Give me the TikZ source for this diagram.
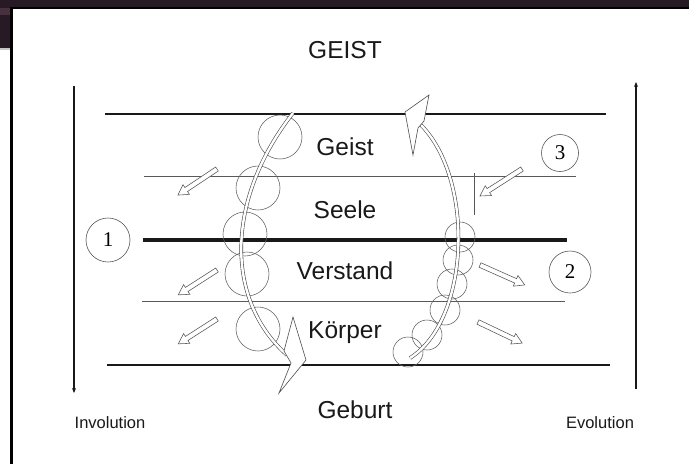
\documentclass[tikz,border=0pt]{standalone}
\usepackage{fontspec}
\setmainfont{Liberation Sans}
\newfontfamily\numfont{Liberation Serif}
\usetikzlibrary{arrows.meta}
\definecolor{framedark}{RGB}{40,26,36}
\definecolor{framelight}{RGB}{72,48,62}
\definecolor{ink}{RGB}{25,25,25}
\tikzset{
  bubble/.style={draw=gray!75!black, line width=0.55pt},
  band/.style={line width=2.6pt, color=ink},
  thinband/.style={line width=0.9pt, color=gray!70!black},
  loopline/.style={draw=gray!60!black, line width=0.6pt, double=white, double distance=2.4pt},
  loophead/.style={draw=gray!60!black, line width=0.6pt, fill=white, line join=miter},
  numbered/.style={circle, draw=gray!70!black, line width=0.6pt, inner sep=0pt, font=\numfont\fontsize{21}{21}\selectfont},
  layer/.style={text=ink, font=\fontsize{24.5}{24.5}\selectfont},
  side/.style={text=ink, font=\fontsize{16.5}{16.5}\selectfont}
}
\newcommand\hollowarrow[3]{%
  \begin{scope}[shift={(#1)}, rotate=#2]
    \draw[gray!65!black, fill=white, line width=0.55pt] (0,-2.4) -- (#3-10,-2.4) -- (#3-10,-5.8) -- (#3,0) -- (#3-10,5.8) -- (#3-10,2.4) -- (0,2.4) -- cycle;
  \end{scope}}

\begin{document}
\begin{tikzpicture}[x=1pt,y=-1pt]
  \useasboundingbox (0,0) rectangle (689,464);
  \fill[white] (0,0) rectangle (689,464);
  \fill[framedark] (0,0) rectangle (689,8);
  \fill[framedark] (0,0) rectangle (10,48);
  \fill[framelight] (0,8) rectangle (10,15);
  \fill[gray!45] (0,48) rectangle (10,50);
  \fill[black] (10,7) rectangle (689,8.5);
  \fill[black] (10,7) rectangle (12.5,464);

  \node[text=ink, font=\fontsize{24.5}{24.5}\selectfont] (GEIST) at (345,50) {GEIST};
  \node[text=ink, font=\fontsize{24.5}{24.5}\selectfont] (Geburt) at (355,410) {Geburt};
  \node[side] (Inv) at (110,423) {Involution};
  \node[side] (Evo) at (600,423) {Evolution};

  \coordinate (invtop) at (74,86);
  \coordinate (invbot) at (74,393);
  \coordinate (evobot) at (636,389);
  \coordinate (evotop) at (636,82);
  \draw[color=ink][line width=1.3pt][-{Stealth[length=5pt,width=4pt]}] (invtop) to (invbot);
  \draw[color=ink][line width=1.3pt][-{Stealth[length=5pt,width=4pt]}] (evobot) to (evotop);

  \draw[band] (105,114) to (606,114);
  \draw[thinband] (144,176) to (576,176);
  \draw[band][line width=3.6pt] (143,240) to (567,240);
  \draw[thinband] (142,301) to (565,301);
  \draw[band] (107,365) to (610,365);

  \node[layer] (Geist) at (345,147) {Geist};
  \node[layer] (Seele) at (345,210) {Seele};
  \node[layer] (Verstand) at (345,271) {Verstand};
  \node[layer] (Koerper) at (345,333) {Körper};

  \node[numbered, minimum size=44pt] (One) at (108,240) {1};
  \node[numbered, minimum size=42pt] (Two) at (570,272) {2};
  \node[numbered, minimum size=37pt] (Three) at (560,153) {3};

  \hollowarrow{217,169}{213.7}{47}
  \hollowarrow{217,270}{212.7}{46}
  \hollowarrow{217,319}{212.7}{46}
  \hollowarrow{522,169}{212.7}{50}
  \hollowarrow{480,265}{-24}{49}
  \hollowarrow{478,322}{-25.5}{49}
  \draw[gray!70!black][line width=0.6pt] (474,173) to (474,215);

  \foreach \cx/\cy in {280/137, 258/188, 245/234, 247/274, 258/329}
    \draw[bubble] (\cx,\cy) circle[radius=22];
  \foreach \cx/\cy in {460/237, 458/260, 452/284, 445/310, 427/335, 408/352}
    \draw[bubble] (\cx,\cy) circle[radius=15];

  \draw[loopline] (293,113) .. controls (225,200) and (225,300) .. (287,355);
  \draw[loophead] (293,317) -- (306,360) -- (279,393) -- (291,363) -- (284,351) -- cycle;
  \draw[loopline] (410,358) .. controls (470,320) and (475,180) .. (421,125);
  \draw[loophead] (405,112) -- (429,95) -- (424,121) -- (418,128) -- (413,155) -- cycle;
\end{tikzpicture}
\end{document}
